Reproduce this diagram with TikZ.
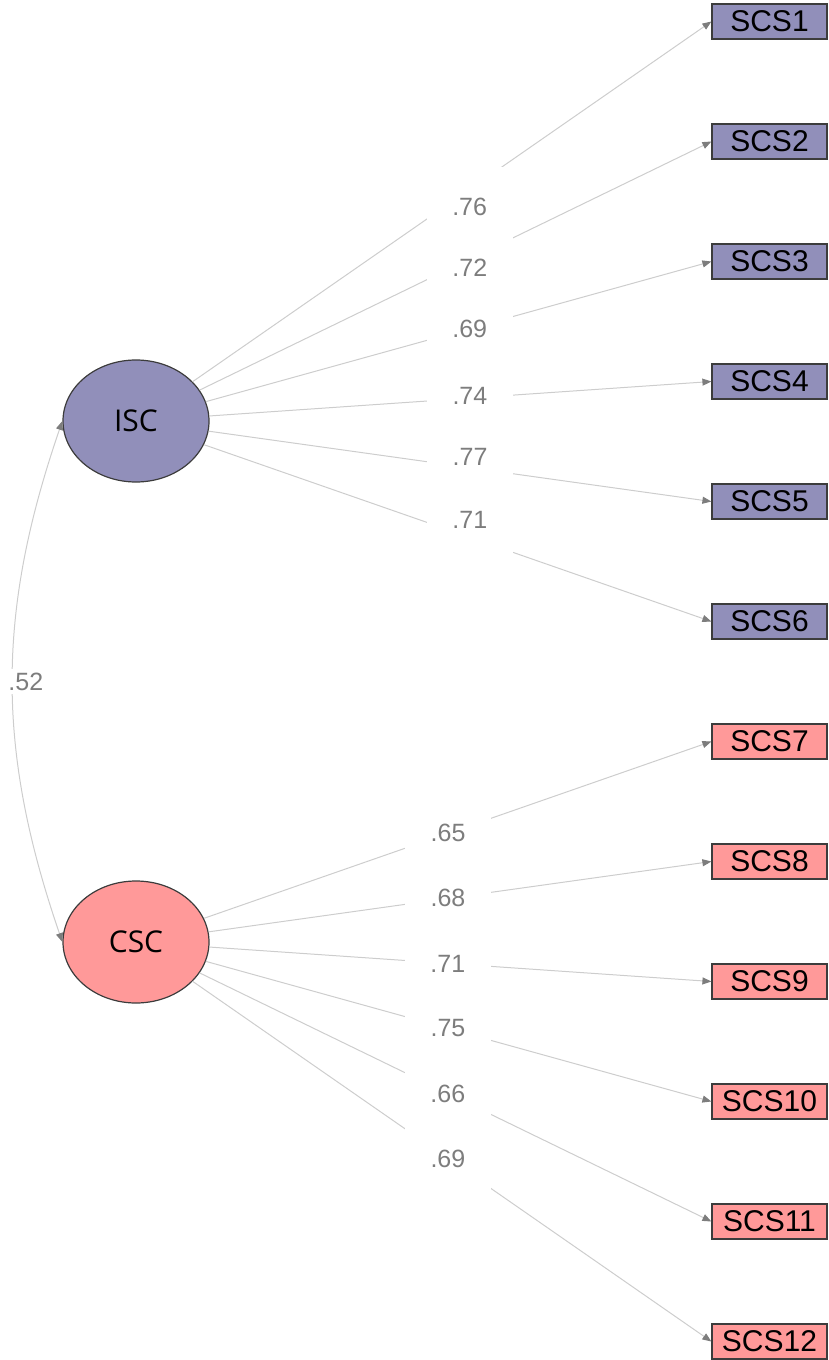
\documentclass[tikz,border=0pt]{standalone}
\usepackage{fontspec}
\setmainfont{Liberation Sans}
\newfontfamily\ovalfont{Open Sans}
\usepackage{tikz}
\usetikzlibrary{shapes.geometric,arrows.meta,positioning}
\usepackage{xcolor}
\definecolor{iscpurple}{RGB}{145,143,186}
\definecolor{cscpink}{RGB}{255,153,153}
\definecolor{edgegray}{RGB}{205,205,205}
\definecolor{tipgray}{RGB}{125,125,125}
\definecolor{labgray}{RGB}{125,125,125}
\definecolor{rimgray}{RGB}{60,60,60}

\begin{document}
\begin{tikzpicture}[x=1pt, y=-1pt,
    lat/.style={ellipse, draw=rimgray, line width=1.2pt,
        minimum width=146pt, minimum height=122pt, inner sep=0pt,
        font=\ovalfont\fontsize{30}{36}\selectfont},
    item/.style={rectangle, draw=rimgray, line width=1.2pt,
        minimum width=115pt, minimum height=35pt, inner sep=0pt,
        font=\fontsize{30}{36}\selectfont},
    arr/.style={-{Triangle[length=9pt, width=7pt, color=tipgray]},
        draw=edgegray, line width=1pt},
    cov/.style={{Triangle[length=9pt, width=7pt, color=tipgray]}-{Triangle[length=9pt, width=7pt, color=tipgray]},
        draw=edgegray, line width=1pt},
    lab/.style={fill=white, text=labgray, font=\fontsize{25}{30}\selectfont,
        minimum width=86pt, minimum height=80pt, inner sep=0pt},
    clab/.style={fill=white, text=labgray, font=\fontsize{25}{30}\selectfont,
        inner sep=4pt}
]
    \useasboundingbox (0,0) rectangle (829,1360);

    % Latent factors
    \node[lat, fill=iscpurple] (ISC) at (136,421) {ISC};
    \node[lat, fill=cscpink]   (CSC) at (136,942) {CSC};

    % Indicators (ISC)
    \node[item, fill=iscpurple] (S1) at (769.5,21.5)  {SCS1};
    \node[item, fill=iscpurple] (S2) at (769.5,141.5) {SCS2};
    \node[item, fill=iscpurple] (S3) at (769.5,261.5) {SCS3};
    \node[item, fill=iscpurple] (S4) at (769.5,381.5) {SCS4};
    \node[item, fill=iscpurple] (S5) at (769.5,501.5) {SCS5};
    \node[item, fill=iscpurple] (S6) at (769.5,621.5) {SCS6};

    % Indicators (CSC)
    \node[item, fill=cscpink] (S7)  at (769.5,741.5)  {SCS7};
    \node[item, fill=cscpink] (S8)  at (769.5,861.5)  {SCS8};
    \node[item, fill=cscpink] (S9)  at (769.5,981.5)  {SCS9};
    \node[item, fill=cscpink] (S10) at (769.5,1101.5) {SCS10};
    \node[item, fill=cscpink] (S11) at (769.5,1221.5) {SCS11};
    \node[item, fill=cscpink] (S12) at (769.5,1341.5) {SCS12};

    % Loadings: ISC
    \draw[arr] (ISC) -- (S1.west) node[lab, pos=0.534, yshift=-18pt] {.76};
    \draw[arr] (ISC) -- (S2.west) node[lab, pos=0.528, yshift=-9pt]  {.72};
    \draw[arr] (ISC) -- (S3.west) node[lab, pos=0.522]               {.69};
    \draw[arr] (ISC) -- (S4.west) node[lab, pos=0.519, yshift=2pt]   {.74};
    \draw[arr] (ISC) -- (S5.west) node[lab, pos=0.520, yshift=11pt]  {.77};
    \draw[arr] (ISC) -- (S6.west) node[lab, pos=0.524, yshift=17pt]  {.71};

    % Loadings: CSC
    \draw[arr] (CSC) -- (S7.west)  node[lab, pos=0.481] {.65};
    \draw[arr] (CSC) -- (S8.west)  node[lab, pos=0.476] {.68};
    \draw[arr] (CSC) -- (S9.west)  node[lab, pos=0.475] {.71};
    \draw[arr] (CSC) -- (S10.west) node[lab, pos=0.479] {.75};
    \draw[arr] (CSC) -- (S11.west) node[lab, pos=0.485] {.66};
    \draw[arr] (CSC) -- (S12.west) node[lab, pos=0.492] {.69};

    % Factor covariance
    \draw[cov] (ISC.west) to[bend right=19]
        node[clab, pos=0.5, xshift=13pt] {.52} (CSC.west);
\end{tikzpicture}
\end{document}
